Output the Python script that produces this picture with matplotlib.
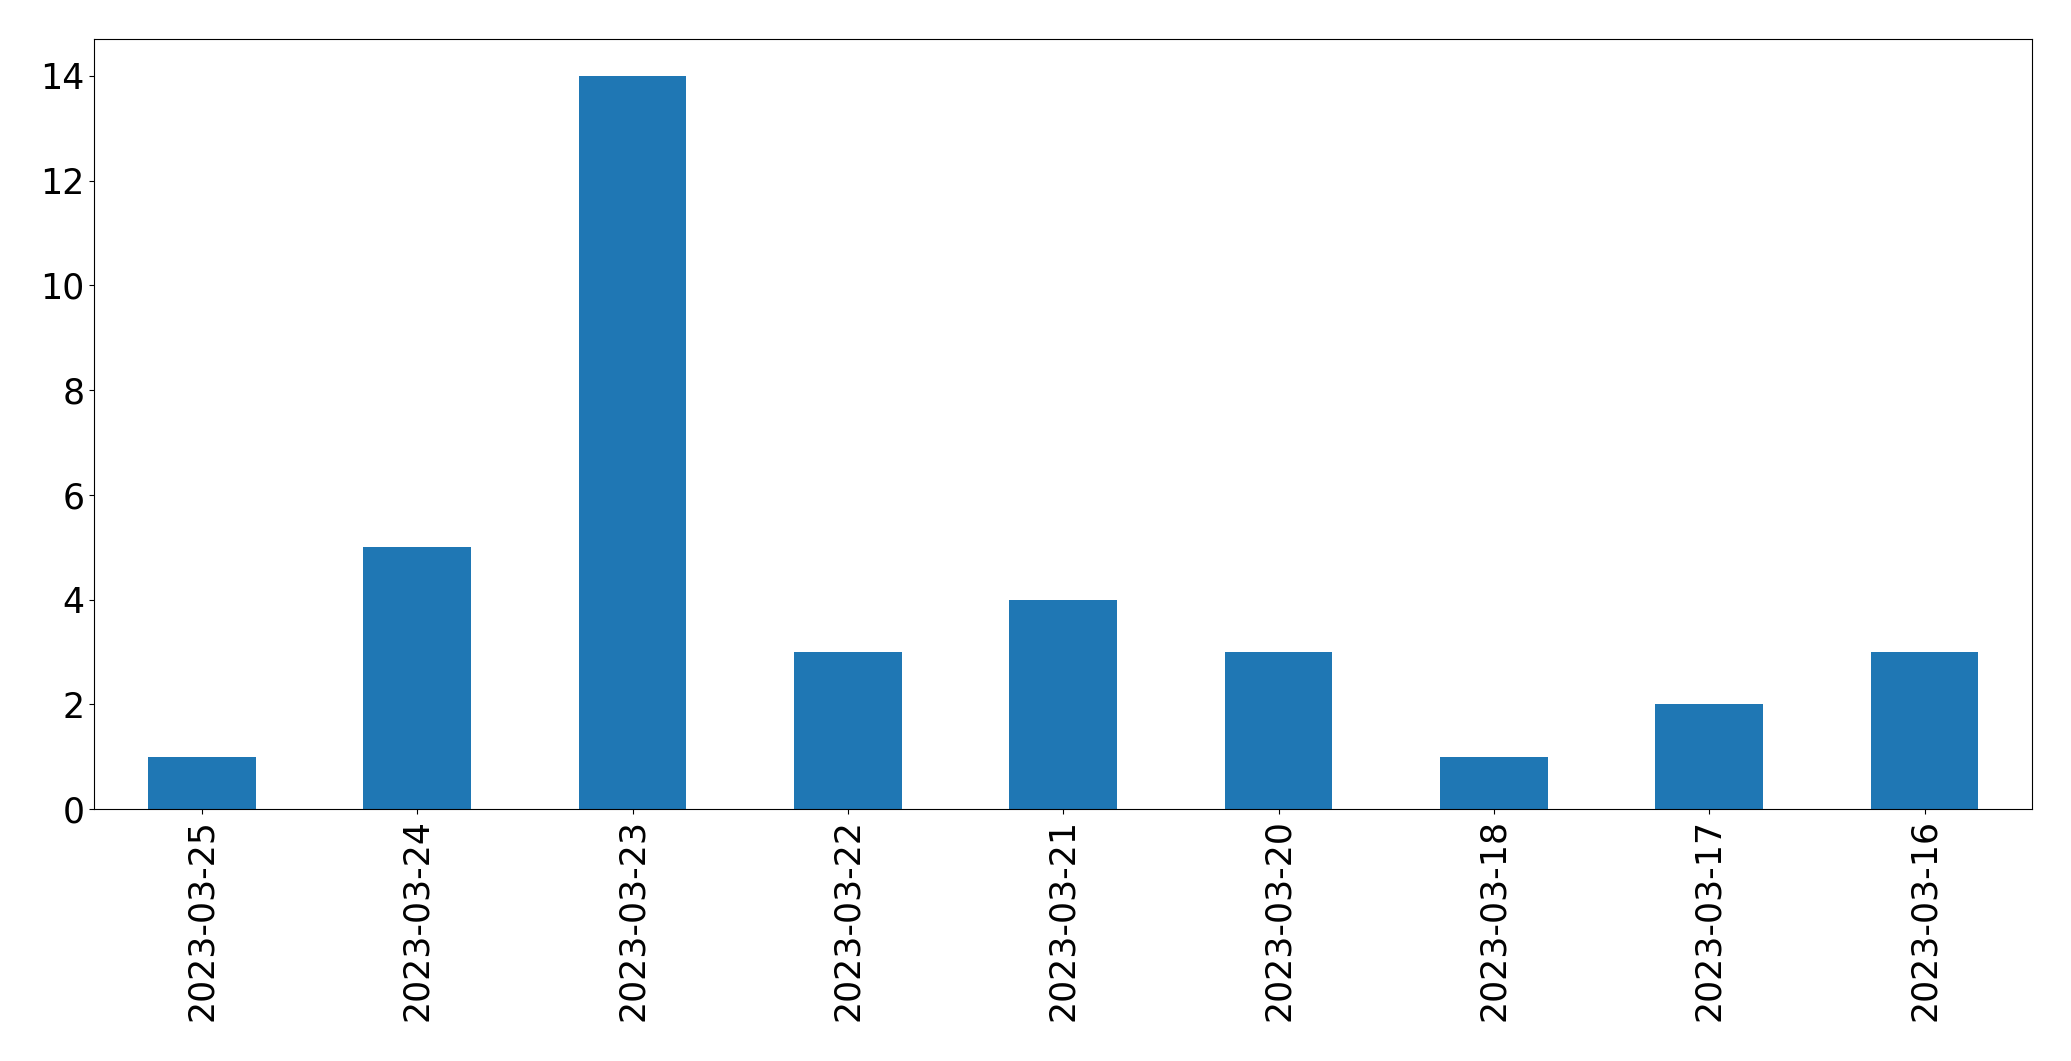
import matplotlib
matplotlib.use("Agg")
import matplotlib.pyplot as plt

dates = ["2023-03-25", "2023-03-24", "2023-03-23", "2023-03-22", "2023-03-21",
         "2023-03-20", "2023-03-18", "2023-03-17", "2023-03-16"]
counts = [1, 5, 14, 3, 4, 3, 1, 2, 3]

fig = plt.figure(figsize=(20.71, 10.61), dpi=100)
ax = fig.add_axes([94.3 / 2071, 1 - 809 / 1061, (2032.3 - 94.3) / 2071, (809 - 39.3) / 1061])
x = list(range(len(dates)))
ax.bar(x, counts, width=0.5, color="#1f77b4")
ax.set_xlim(-0.5, len(dates) - 0.5)
ax.set_ylim(0, 14.7)
ax.set_xticks(x)
ax.set_xticklabels(dates, rotation=90)
ax.set_yticks([0, 2, 4, 6, 8, 10, 12, 14])
ax.tick_params(labelsize=25)
fig.savefig("out.png", dpi=100)
